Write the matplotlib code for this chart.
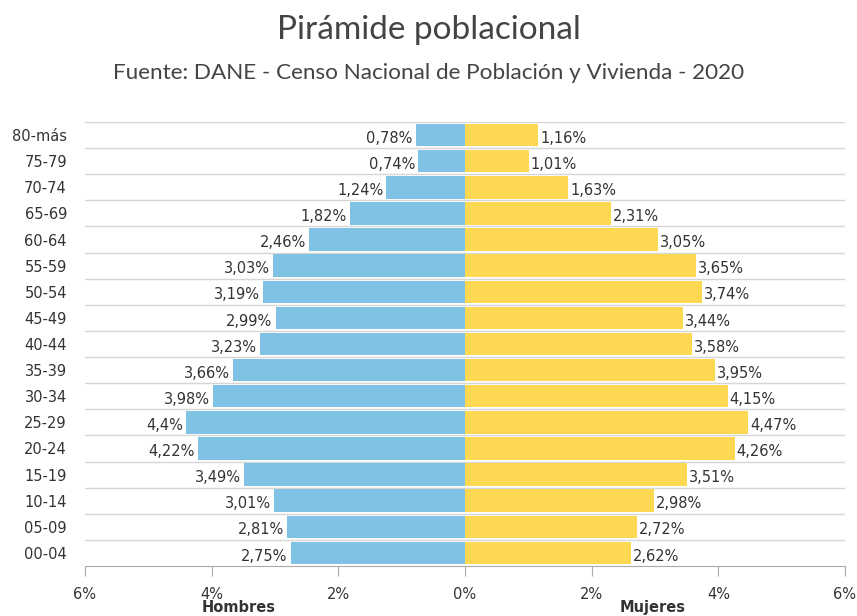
import matplotlib.pyplot as plt
import numpy as np

plt.rcParams['font.family'] = ['DejaVu Sans']

# Data
ages = ['00-04', '05-09', '10-14', '15-19', '20-24', '25-29', '30-34', '35-39',
        '40-44', '45-49', '50-54', '55-59', '60-64', '65-69', '70-74', '75-79', '80-más']
hombres = [2.75, 2.81, 3.01, 3.49, 4.22, 4.4, 3.98, 3.66, 3.23, 2.99, 3.19, 3.03,
           2.46, 1.82, 1.24, 0.74, 0.78]
mujeres = [2.62, 2.72, 2.98, 3.51, 4.26, 4.47, 4.15, 3.95, 3.58, 3.44, 3.74, 3.65,
           3.05, 2.31, 1.63, 1.01, 1.16]
xticks = [-6, -4, -2, 0, 2, 4, 6]

blue = '#7fc2e4'
yellow = '#fdd853'
text_col = '#333333'


def fmt(v):
    return '{:g}%'.format(v).replace('.', ',')


fig = plt.figure(figsize=(8.57, 6.16), dpi=100)
ax = fig.add_axes([85 / 857, 50 / 616, 760 / 857, 444 / 616])

y = np.arange(len(ages))
ax.barh(y, [-v for v in hombres], height=0.86, color=blue, zorder=2)
ax.barh(y, mujeres, height=0.86, color=yellow, zorder=2)

# value labels
for yi, h, m in zip(y, hombres, mujeres):
    ax.text(-h - 0.05, yi - 0.12, fmt(h), ha='right', va='center',
            fontsize=10.5, color=text_col)
    ax.text(m + 0.03, yi - 0.12, fmt(m), ha='left', va='center',
            fontsize=10.5, color=text_col)

# grid lines between rows
for g in np.arange(-0.5, len(ages), 1.0)[1:]:
    ax.axhline(g, color='#d6d6d6', lw=1, zorder=1)

ax.set_xlim(-6, 6)
ax.set_ylim(-0.5, len(ages) - 0.5)
ax.set_yticks(y)
ax.set_yticklabels(ages, fontsize=10.5, color=text_col)
ax.tick_params(axis='y', length=0, pad=13)
ax.set_xticks(xticks)
ax.set_xticklabels(['{}%'.format(abs(t)) for t in xticks], fontsize=10.5, color=text_col)
ax.tick_params(axis='x', length=7, color='#aaaaaa', pad=8)

for s in ['top', 'left', 'right']:
    ax.spines[s].set_visible(False)
ax.spines['bottom'].set_color('#aaaaaa')

ax.text(-3.58, -0.077, 'Hombres', transform=ax.get_xaxis_transform(),
        ha='center', va='top', fontsize=10.5, fontweight='bold', color=text_col)
ax.text(2.97, -0.077, 'Mujeres', transform=ax.get_xaxis_transform(),
        ha='center', va='top', fontsize=10.5, fontweight='bold', color=text_col)

fig.text(0.5, 1 - 30 / 616, 'Pirámide poblacional', ha='center', va='center',
         fontsize=24, family='Lato', fontweight='normal', color='#444444')
fig.text(0.5, 1 - 73 / 616, 'Fuente: DANE - Censo Nacional de Población y Vivienda - 2020',
         ha='center', va='center', fontsize=16.2, family='Lato', fontweight='normal',
         color='#444444')

fig.savefig('out.png', dpi=100)
